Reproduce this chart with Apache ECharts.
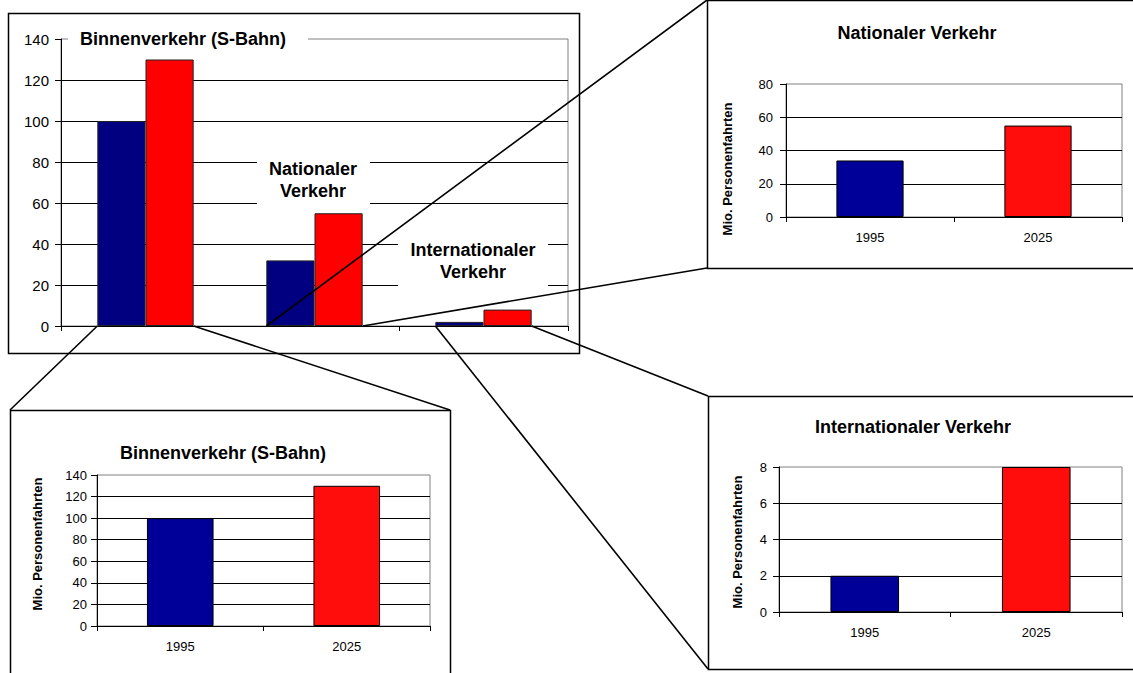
<!DOCTYPE html>
<html>
<head>
<meta charset="utf-8">
<script src="https://cdn.jsdelivr.net/npm/echarts@6/dist/echarts.min.js"></script>
<style>html,body{margin:0;padding:0;background:#fff;}#c{width:1133px;height:673px;}</style>
</head>
<body>
<div id="c"></div>
<script>
// ---------- data ----------
const groups = ['Binnenverkehr (S-Bahn)', 'Nationaler Verkehr', 'Internationaler Verkehr'];
const groupLabels = ['Binnenverkehr (S-Bahn)', 'Nationaler\nVerkehr', 'Internationaler\nVerkehr'];
const years = ['1995', '2025'];
const main1995 = [100, 32, 2];
const main2025 = [130, 55, 8];
const binnenValues = [100, 130];
const nationalValues = [34, 55];
const internationalValues = [2, 8];
const yAxisName = 'Mio. Personenfahrten';
const mainAxis = {max: 140, interval: 20};
const binnenAxis = {max: 140, interval: 20};
const nationalAxis = {max: 80, interval: 20};
const internationalAxis = {max: 8, interval: 2};

// ---------- style ----------
const FONT = '"Liberation Sans", Arial, sans-serif';
const BLUE_MAIN = '#000080', RED_MAIN = '#ff0000';
const BLUE_IN = '#000099', RED_IN = '#ff0d0d';
const CAT_GAP = 0.43;

const chart = echarts.init(document.getElementById('c'), null, {renderer: 'svg'});

function yAx(gi, ax, fontSize, margin) {
  return {
    type: 'value', gridIndex: gi, min: 0, max: ax.max, interval: ax.interval,
    axisLine: {show: true, lineStyle: {color: '#000', width: 1}},
    axisTick: {show: true, length: 6, lineStyle: {color: '#000', width: 1}},
    axisLabel: {fontSize: fontSize, color: '#000', margin: margin, fontFamily: FONT},
    splitLine: {show: true, showMaxLine: false, lineStyle: {color: '#000', width: 1}}
  };
}
function xAx(gi, data, showLabel) {
  return {
    type: 'category', gridIndex: gi, data: data,
    axisLine: {show: true, lineStyle: {color: '#000', width: 1}},
    axisTick: {show: true, length: 5, lineStyle: {color: '#000', width: 1}},
    axisLabel: {show: showLabel, fontSize: 13, color: '#000', margin: 14, fontFamily: FONT},
    splitLine: {show: false}
  };
}
function gridBox(l, t, r, b) {
  return {left: l, top: t, right: r, bottom: b, show: true, borderColor: '#808080',
          borderWidth: 1, backgroundColor: 'transparent', containLabel: false, outerBoundsMode: 'none'};
}
function insetSeries(gi, vals) {
  const cols = [BLUE_IN, RED_IN];
  return {
    type: 'bar', xAxisIndex: gi, yAxisIndex: gi, barWidth: '40%',
    data: vals.map((v, i) => ({value: v, itemStyle: {color: cols[i]}})),
    itemStyle: {borderColor: '#000', borderWidth: 1}
  };
}

const option = {
  animation: false,
  backgroundColor: '#fff',
  textStyle: {fontFamily: FONT},
  grid: [
    gridBox(61, 39, 565, 347),
    gridBox(97, 475, 703, 47),
    gridBox(786, 84, 11, 456),
    gridBox(779, 467, 11, 61)
  ],
  xAxis: [
    xAx(0, groups, false),
    xAx(1, years, true),
    xAx(2, years, true),
    xAx(3, years, true)
  ],
  yAxis: [
    yAx(0, mainAxis, 15, 12),
    yAx(1, binnenAxis, 13, 10),
    yAx(2, nationalAxis, 13, 13),
    yAx(3, internationalAxis, 13, 12)
  ],
  series: [
    {type: 'bar', name: years[0], xAxisIndex: 0, yAxisIndex: 0, data: main1995,
     barGap: '0%', barCategoryGap: (CAT_GAP * 100) + '%',
     itemStyle: {color: BLUE_MAIN, borderColor: '#222', borderWidth: 1}},
    {type: 'bar', name: years[1], xAxisIndex: 0, yAxisIndex: 0, data: main2025,
     barGap: '0%', barCategoryGap: (CAT_GAP * 100) + '%',
     itemStyle: {color: RED_MAIN, borderColor: '#222', borderWidth: 1}},
    insetSeries(1, binnenValues),
    insetSeries(2, nationalValues),
    insetSeries(3, internationalValues)
  ]
};
chart.setOption(option);

// ---------- annotations, frames and connectors ----------
const boxMain = [8, 13, 571, 340];
const boxBin = [10, 410, 440, 320];
const boxNat = [707, 0, 500, 268];
const boxInt = [708, 396, 500, 273];

function px(gi, c, v) { return chart.convertToPixel({gridIndex: gi}, [c, v]); }
const band = px(0, 1, 0)[0] - px(0, 0, 0)[0];
const half = band * (1 - CAT_GAP) / 2;
const y0 = px(0, 0, 0)[1];
function edges(i) { const c = px(0, i, 0)[0]; return [c - half, c + half]; }

const g = [];
function rectFrame(b) {
  g.push({type: 'rect', z: 30, shape: {x: b[0] + 0.5, y: b[1] + 0.5, width: b[2], height: b[3]},
          style: {fill: 'none', stroke: '#000', lineWidth: 1.5}});
}
[boxMain, boxBin, boxNat, boxInt].forEach(rectFrame);

function line(x1, y1, x2, y2) {
  g.push({type: 'line', z: 31, shape: {x1: x1, y1: y1, x2: x2, y2: y2},
          style: {stroke: '#000', lineWidth: 1.6}});
}
const e0 = edges(0), e1 = edges(1), e2 = edges(2);
line(e0[0], y0, boxBin[0], boxBin[1]);
line(e0[1], y0, boxBin[0] + boxBin[2], boxBin[1]);
line(e1[0], y0, boxNat[0], boxNat[1]);
line(e1[1], y0, boxNat[0], boxNat[1] + boxNat[3]);
line(e2[0], y0, boxInt[0], boxInt[1] + boxInt[3]);
line(e2[1], y0, boxInt[0], boxInt[1]);

function whiteRect(x1, y1, x2, y2) {
  g.push({type: 'rect', z: 20, shape: {x: x1, y: y1, width: x2 - x1, height: y2 - y1},
          style: {fill: '#fff', stroke: 'none'}});
}
function text(x, y, t, font, rot) {
  g.push({type: 'text', z: 25, x: x, y: y, rotation: rot || 0,
          style: {text: t, font: font, fill: '#000', align: 'center', verticalAlign: 'middle', lineHeight: 22}});
}
const BIG = 'bold 18px ' + FONT;
const TITLE = 'bold 18px ' + FONT;
const YN = 'bold 13px ' + FONT;

// labels inside main chart
whiteRect(68, 27, 308, 51);
text(183, 39, groupLabels[0], BIG);
whiteRect(257, 156, 370, 207);
text(313, 180, groupLabels[1], BIG);
whiteRect(398, 236, 548, 292);
text(473, 261, groupLabels[2], BIG);

// inset titles
text(223, 453, groups[0], TITLE);
text(917, 33, groups[1], TITLE);
text(913, 427, groups[2], TITLE);

// inset y-axis names
text(37, 544, yAxisName, YN, Math.PI / 2);
text(727, 169, yAxisName, YN, Math.PI / 2);
text(737, 542, yAxisName, YN, Math.PI / 2);

chart.setOption({graphic: g});
</script>
</body>
</html>
